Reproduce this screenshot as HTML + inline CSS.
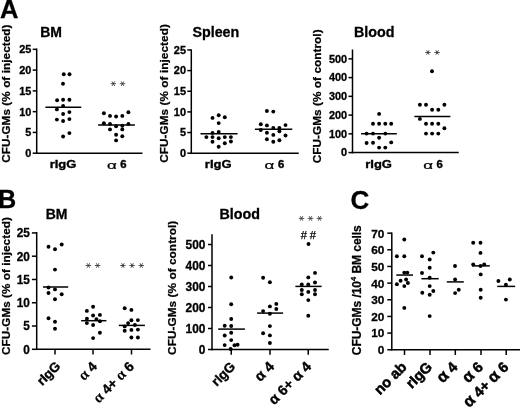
<!DOCTYPE html>
<html><head><meta charset="utf-8"><title>Figure</title>
<style>
html,body{margin:0;padding:0;background:#fff;}
body{width:520px;height:408px;overflow:hidden;font-family:'Liberation Sans',sans-serif;}
svg{display:block;will-change:transform;}
svg text{font-family:'Liberation Sans',sans-serif;fill:#000;}
</style></head><body>
<svg width="520" height="408" viewBox="0 0 520 408">
<rect width="520" height="408" fill="#fff"/>
<text x="-0.1" y="17.9" font-size="25.5" font-weight="bold" text-anchor="start" stroke="#000" stroke-width="0.3">A</text>
<text x="-1.9" y="207.7" font-size="25.2" font-weight="bold" text-anchor="start" stroke="#000" stroke-width="0.3">B</text>
<text x="350.4" y="209.1" font-size="26" font-weight="bold" text-anchor="start" stroke="#000" stroke-width="0.3">C</text>
<line x1="36.7" y1="48.5" x2="36.7" y2="153.95" stroke="#000" stroke-width="1.5"/>
<line x1="32.7" y1="153.2" x2="36.7" y2="153.2" stroke="#000" stroke-width="1.5"/>
<text x="31.4" y="157.07" font-size="10.4" font-weight="bold" text-anchor="end" stroke="#000" stroke-width="0.3" textLength="6.06" lengthAdjust="spacingAndGlyphs">0</text>
<line x1="32.7" y1="132.42" x2="36.7" y2="132.42" stroke="#000" stroke-width="1.5"/>
<text x="31.4" y="136.3" font-size="10.4" font-weight="bold" text-anchor="end" stroke="#000" stroke-width="0.3" textLength="6.06" lengthAdjust="spacingAndGlyphs">5</text>
<line x1="32.7" y1="111.65" x2="36.7" y2="111.65" stroke="#000" stroke-width="1.5"/>
<text x="31.4" y="115.52" font-size="10.4" font-weight="bold" text-anchor="end" stroke="#000" stroke-width="0.3" textLength="12.13" lengthAdjust="spacingAndGlyphs">10</text>
<line x1="32.7" y1="90.87" x2="36.7" y2="90.87" stroke="#000" stroke-width="1.5"/>
<text x="31.4" y="94.75" font-size="10.4" font-weight="bold" text-anchor="end" stroke="#000" stroke-width="0.3" textLength="12.13" lengthAdjust="spacingAndGlyphs">15</text>
<line x1="32.7" y1="70.1" x2="36.7" y2="70.1" stroke="#000" stroke-width="1.5"/>
<text x="31.4" y="73.97" font-size="10.4" font-weight="bold" text-anchor="end" stroke="#000" stroke-width="0.3" textLength="12.13" lengthAdjust="spacingAndGlyphs">20</text>
<line x1="32.7" y1="49.32" x2="36.7" y2="49.32" stroke="#000" stroke-width="1.5"/>
<text x="31.4" y="53.2" font-size="10.4" font-weight="bold" text-anchor="end" stroke="#000" stroke-width="0.3" textLength="12.13" lengthAdjust="spacingAndGlyphs">25</text>
<line x1="35.95" y1="153.2" x2="142.5" y2="153.2" stroke="#000" stroke-width="1.5"/>
<text x="40.2" y="37" font-size="14" font-weight="bold" text-anchor="start" stroke="#000" stroke-width="0.3">BM</text>
<text transform="translate(10.2,162.85) rotate(-90)" font-size="11.7" font-weight="bold" textLength="138.3" lengthAdjust="spacing" stroke="#000" stroke-width="0.25">CFU-GMs (% of injected)</text>
<g><circle cx="63.75" cy="74.25" r="1.95"/><circle cx="69.5" cy="74.25" r="1.95"/><circle cx="63" cy="83.75" r="1.95"/><circle cx="57.1" cy="100.25" r="1.95"/><circle cx="63.1" cy="99.75" r="1.95"/><circle cx="69.4" cy="99.75" r="1.95"/><circle cx="63.1" cy="106" r="1.95"/><circle cx="56.9" cy="109.4" r="1.95"/><circle cx="69.4" cy="112.1" r="1.95"/><circle cx="63.1" cy="114" r="1.95"/><circle cx="56.9" cy="119.6" r="1.95"/><circle cx="69.4" cy="119.1" r="1.95"/><circle cx="63.1" cy="121" r="1.95"/><circle cx="69.4" cy="133.1" r="1.95"/><circle cx="63.1" cy="136.5" r="1.95"/></g>
<line x1="45.4" y1="107.2" x2="81.25" y2="107.2" stroke="#000" stroke-width="1.5"/>
<g><circle cx="103.9" cy="113.2" r="1.95"/><circle cx="110" cy="115.9" r="1.95"/><circle cx="116.1" cy="116.5" r="1.95"/><circle cx="122.3" cy="115.9" r="1.95"/><circle cx="128.4" cy="112.3" r="1.95"/><circle cx="103.9" cy="123.3" r="1.95"/><circle cx="110" cy="123.9" r="1.95"/><circle cx="116.1" cy="126.3" r="1.95"/><circle cx="122.3" cy="125.7" r="1.95"/><circle cx="128.4" cy="123.9" r="1.95"/><circle cx="110" cy="129.4" r="1.95"/><circle cx="122.3" cy="129.4" r="1.95"/><circle cx="116.1" cy="134.7" r="1.95"/><circle cx="122.3" cy="136.2" r="1.95"/><circle cx="116.1" cy="140.4" r="1.95"/></g>
<line x1="98.1" y1="124.9" x2="134.9" y2="124.9" stroke="#000" stroke-width="1.5"/>
<g stroke="#2a2a2a" stroke-width="0.8" stroke-linecap="butt">
<line x1="110.60" y1="83.7" x2="116.10" y2="83.7"/>
<line x1="112.04" y1="81.44" x2="114.66" y2="85.96"/>
<line x1="114.66" y1="81.44" x2="112.04" y2="85.96"/>
</g>
<g stroke="#2a2a2a" stroke-width="0.8" stroke-linecap="butt">
<line x1="119.75" y1="83.7" x2="125.25" y2="83.7"/>
<line x1="121.19" y1="81.44" x2="123.81" y2="85.96"/>
<line x1="123.81" y1="81.44" x2="121.19" y2="85.96"/>
</g>
<text x="63.0" y="168.0" font-size="11.3" font-weight="bold" text-anchor="middle" textLength="26.7" lengthAdjust="spacingAndGlyphs" stroke="#000" stroke-width="0.35">rIgG</text>
<text transform="translate(106.92,168.8) scale(1.41,0.85)" font-family="Liberation Serif" font-weight="normal" font-size="12" stroke="#000" stroke-width="0.25">α</text>
<text x="120.2" y="168.3" font-size="11.3" font-weight="bold" stroke="#000" stroke-width="0.4">6</text>
<line x1="191.3" y1="49.4" x2="191.3" y2="153.95" stroke="#000" stroke-width="1.5"/>
<line x1="187.3" y1="153.2" x2="191.3" y2="153.2" stroke="#000" stroke-width="1.5"/>
<text x="186.0" y="157.07" font-size="10.4" font-weight="bold" text-anchor="end" stroke="#000" stroke-width="0.3" textLength="6.06" lengthAdjust="spacingAndGlyphs">0</text>
<line x1="187.3" y1="132.55" x2="191.3" y2="132.55" stroke="#000" stroke-width="1.5"/>
<text x="186.0" y="136.42" font-size="10.4" font-weight="bold" text-anchor="end" stroke="#000" stroke-width="0.3" textLength="6.06" lengthAdjust="spacingAndGlyphs">5</text>
<line x1="187.3" y1="111.9" x2="191.3" y2="111.9" stroke="#000" stroke-width="1.5"/>
<text x="186.0" y="115.77" font-size="10.4" font-weight="bold" text-anchor="end" stroke="#000" stroke-width="0.3" textLength="12.13" lengthAdjust="spacingAndGlyphs">10</text>
<line x1="187.3" y1="91.25" x2="191.3" y2="91.25" stroke="#000" stroke-width="1.5"/>
<text x="186.0" y="95.12" font-size="10.4" font-weight="bold" text-anchor="end" stroke="#000" stroke-width="0.3" textLength="12.13" lengthAdjust="spacingAndGlyphs">15</text>
<line x1="187.3" y1="70.6" x2="191.3" y2="70.6" stroke="#000" stroke-width="1.5"/>
<text x="186.0" y="74.47" font-size="10.4" font-weight="bold" text-anchor="end" stroke="#000" stroke-width="0.3" textLength="12.13" lengthAdjust="spacingAndGlyphs">20</text>
<line x1="187.3" y1="49.95" x2="191.3" y2="49.95" stroke="#000" stroke-width="1.5"/>
<text x="186.0" y="53.82" font-size="10.4" font-weight="bold" text-anchor="end" stroke="#000" stroke-width="0.3" textLength="12.13" lengthAdjust="spacingAndGlyphs">25</text>
<line x1="190.55" y1="153.2" x2="298.75" y2="153.2" stroke="#000" stroke-width="1.5"/>
<text x="192.4" y="36.9" font-size="14.3" font-weight="bold" text-anchor="start" stroke="#000" stroke-width="0.3">Spleen</text>
<text transform="translate(167.6,162.85) rotate(-90)" font-size="11.7" font-weight="bold" textLength="138.7" lengthAdjust="spacing" stroke="#000" stroke-width="0.25">CFU-GMs (% of injected)</text>
<g><circle cx="212.5" cy="117.9" r="1.95"/><circle cx="218.7" cy="115.2" r="1.95"/><circle cx="224.8" cy="117.3" r="1.95"/><circle cx="218.7" cy="123.1" r="1.95"/><circle cx="212.5" cy="132.9" r="1.95"/><circle cx="218.7" cy="132" r="1.95"/><circle cx="206.4" cy="137.1" r="1.95"/><circle cx="212.5" cy="137.1" r="1.95"/><circle cx="218.7" cy="138.3" r="1.95"/><circle cx="224.8" cy="137.1" r="1.95"/><circle cx="230.9" cy="137.1" r="1.95"/><circle cx="212.5" cy="141.8" r="1.95"/><circle cx="224.8" cy="143.2" r="1.95"/><circle cx="230.9" cy="141.5" r="1.95"/><circle cx="218.7" cy="146.7" r="1.95"/></g>
<line x1="200.5" y1="133.7" x2="237.6" y2="133.7" stroke="#000" stroke-width="1.5"/>
<g><circle cx="266.9" cy="111" r="1.95"/><circle cx="273.3" cy="111.6" r="1.95"/><circle cx="260.8" cy="124.3" r="1.95"/><circle cx="266.9" cy="125.4" r="1.95"/><circle cx="285.5" cy="125.1" r="1.95"/><circle cx="273.3" cy="127.9" r="1.95"/><circle cx="279.4" cy="127.9" r="1.95"/><circle cx="260.8" cy="130" r="1.95"/><circle cx="279.4" cy="131.3" r="1.95"/><circle cx="266.9" cy="132.8" r="1.95"/><circle cx="273.3" cy="134.9" r="1.95"/><circle cx="285.5" cy="135.5" r="1.95"/><circle cx="266.9" cy="139.2" r="1.95"/><circle cx="273.3" cy="141.7" r="1.95"/><circle cx="279.4" cy="140.2" r="1.95"/></g>
<line x1="254.9" y1="129.2" x2="292.3" y2="129.2" stroke="#000" stroke-width="1.5"/>
<text x="218.2" y="168.0" font-size="11.3" font-weight="bold" text-anchor="middle" textLength="26.7" lengthAdjust="spacingAndGlyphs" stroke="#000" stroke-width="0.35">rIgG</text>
<text transform="translate(264.62,168.8) scale(1.41,0.85)" font-family="Liberation Serif" font-weight="normal" font-size="12" stroke="#000" stroke-width="0.25">α</text>
<text x="277.9" y="168.3" font-size="11.3" font-weight="bold" stroke="#000" stroke-width="0.4">6</text>
<line x1="352.5" y1="49.5" x2="352.5" y2="153.35" stroke="#000" stroke-width="1.5"/>
<line x1="348.5" y1="152.6" x2="352.5" y2="152.6" stroke="#000" stroke-width="1.5"/>
<text x="347.2" y="156.47" font-size="10.4" font-weight="bold" text-anchor="end" stroke="#000" stroke-width="0.3" textLength="6.06" lengthAdjust="spacingAndGlyphs">0</text>
<line x1="348.5" y1="133.85" x2="352.5" y2="133.85" stroke="#000" stroke-width="1.5"/>
<text x="347.2" y="137.72" font-size="10.4" font-weight="bold" text-anchor="end" stroke="#000" stroke-width="0.3" textLength="18.19" lengthAdjust="spacingAndGlyphs">100</text>
<line x1="348.5" y1="115.1" x2="352.5" y2="115.1" stroke="#000" stroke-width="1.5"/>
<text x="347.2" y="118.97" font-size="10.4" font-weight="bold" text-anchor="end" stroke="#000" stroke-width="0.3" textLength="18.19" lengthAdjust="spacingAndGlyphs">200</text>
<line x1="348.5" y1="96.35" x2="352.5" y2="96.35" stroke="#000" stroke-width="1.5"/>
<text x="347.2" y="100.22" font-size="10.4" font-weight="bold" text-anchor="end" stroke="#000" stroke-width="0.3" textLength="18.19" lengthAdjust="spacingAndGlyphs">300</text>
<line x1="348.5" y1="77.6" x2="352.5" y2="77.6" stroke="#000" stroke-width="1.5"/>
<text x="347.2" y="81.47" font-size="10.4" font-weight="bold" text-anchor="end" stroke="#000" stroke-width="0.3" textLength="18.19" lengthAdjust="spacingAndGlyphs">400</text>
<line x1="348.5" y1="58.85" x2="352.5" y2="58.85" stroke="#000" stroke-width="1.5"/>
<text x="347.2" y="62.72" font-size="10.4" font-weight="bold" text-anchor="end" stroke="#000" stroke-width="0.3" textLength="18.19" lengthAdjust="spacingAndGlyphs">500</text>
<line x1="351.75" y1="152.6" x2="458.75" y2="152.6" stroke="#000" stroke-width="1.5"/>
<text x="354" y="37" font-size="14.3" font-weight="bold" text-anchor="start" stroke="#000" stroke-width="0.3">Blood</text>
<text transform="translate(320.5,163.3) rotate(-90)" font-size="11.8" font-weight="bold" textLength="133.9" lengthAdjust="spacing" stroke="#000" stroke-width="0.25">CFU-GMs (% of control)</text>
<g><circle cx="379.1" cy="113.9" r="1.95"/><circle cx="373" cy="123.75" r="1.95"/><circle cx="379.1" cy="123.75" r="1.95"/><circle cx="385.3" cy="123.75" r="1.95"/><circle cx="391.2" cy="123.75" r="1.95"/><circle cx="366.6" cy="133.6" r="1.95"/><circle cx="373" cy="133.6" r="1.95"/><circle cx="385.3" cy="133.6" r="1.95"/><circle cx="379.1" cy="137.8" r="1.95"/><circle cx="366.6" cy="143" r="1.95"/><circle cx="373" cy="142.7" r="1.95"/><circle cx="391.2" cy="142.4" r="1.95"/><circle cx="379.1" cy="147.6" r="1.95"/><circle cx="385.3" cy="147.6" r="1.95"/></g>
<line x1="361.1" y1="133.8" x2="396.8" y2="133.8" stroke="#000" stroke-width="1.5"/>
<g><circle cx="432" cy="71.25" r="1.95"/><circle cx="419.9" cy="104.8" r="1.95"/><circle cx="426" cy="104.8" r="1.95"/><circle cx="432.1" cy="109.7" r="1.95"/><circle cx="438.3" cy="109.7" r="1.95"/><circle cx="444.4" cy="104.8" r="1.95"/><circle cx="419.9" cy="118.9" r="1.95"/><circle cx="426" cy="123.8" r="1.95"/><circle cx="432.1" cy="123.8" r="1.95"/><circle cx="438.3" cy="123.8" r="1.95"/><circle cx="444.4" cy="128.3" r="1.95"/><circle cx="426" cy="133.6" r="1.95"/><circle cx="432.1" cy="133.6" r="1.95"/><circle cx="438.3" cy="133.6" r="1.95"/></g>
<line x1="414.4" y1="116.4" x2="450.4" y2="116.4" stroke="#000" stroke-width="1.5"/>
<g stroke="#2a2a2a" stroke-width="0.8" stroke-linecap="butt">
<line x1="425.15" y1="52.5" x2="430.65" y2="52.5"/>
<line x1="426.59" y1="50.24" x2="429.21" y2="54.76"/>
<line x1="429.21" y1="50.24" x2="426.59" y2="54.76"/>
</g>
<g stroke="#2a2a2a" stroke-width="0.8" stroke-linecap="butt">
<line x1="434.35" y1="52.5" x2="439.85" y2="52.5"/>
<line x1="435.79" y1="50.24" x2="438.41" y2="54.76"/>
<line x1="438.41" y1="50.24" x2="435.79" y2="54.76"/>
</g>
<text x="378.6" y="168.0" font-size="11.3" font-weight="bold" text-anchor="middle" textLength="26.7" lengthAdjust="spacingAndGlyphs" stroke="#000" stroke-width="0.35">rIgG</text>
<text transform="translate(423.22,168.8) scale(1.41,0.85)" font-family="Liberation Serif" font-weight="normal" font-size="12" stroke="#000" stroke-width="0.25">α</text>
<text x="436.5" y="168.3" font-size="11.3" font-weight="bold" stroke="#000" stroke-width="0.4">6</text>
<line x1="36.7" y1="232" x2="36.7" y2="350.05" stroke="#000" stroke-width="1.5"/>
<line x1="31.9" y1="349.3" x2="36.7" y2="349.3" stroke="#000" stroke-width="1.5"/>
<text x="29.9" y="353.71" font-size="11.9" font-weight="bold" text-anchor="end" stroke="#000" stroke-width="0.3" textLength="6.56" lengthAdjust="spacingAndGlyphs">0</text>
<line x1="31.9" y1="326.03" x2="36.7" y2="326.03" stroke="#000" stroke-width="1.5"/>
<text x="29.9" y="330.44" font-size="11.9" font-weight="bold" text-anchor="end" stroke="#000" stroke-width="0.3" textLength="6.56" lengthAdjust="spacingAndGlyphs">5</text>
<line x1="31.9" y1="302.75" x2="36.7" y2="302.75" stroke="#000" stroke-width="1.5"/>
<text x="29.9" y="307.16" font-size="11.9" font-weight="bold" text-anchor="end" stroke="#000" stroke-width="0.3" textLength="13.13" lengthAdjust="spacingAndGlyphs">10</text>
<line x1="31.9" y1="279.48" x2="36.7" y2="279.48" stroke="#000" stroke-width="1.5"/>
<text x="29.9" y="283.89" font-size="11.9" font-weight="bold" text-anchor="end" stroke="#000" stroke-width="0.3" textLength="13.13" lengthAdjust="spacingAndGlyphs">15</text>
<line x1="31.9" y1="256.2" x2="36.7" y2="256.2" stroke="#000" stroke-width="1.5"/>
<text x="29.9" y="260.61" font-size="11.9" font-weight="bold" text-anchor="end" stroke="#000" stroke-width="0.3" textLength="13.13" lengthAdjust="spacingAndGlyphs">20</text>
<line x1="31.9" y1="232.93" x2="36.7" y2="232.93" stroke="#000" stroke-width="1.5"/>
<text x="29.9" y="237.34" font-size="11.9" font-weight="bold" text-anchor="end" stroke="#000" stroke-width="0.3" textLength="13.13" lengthAdjust="spacingAndGlyphs">25</text>
<line x1="35.95" y1="349.3" x2="150.5" y2="349.3" stroke="#000" stroke-width="1.5"/>
<line x1="55" y1="349.3" x2="55" y2="354.5" stroke="#000" stroke-width="1.5"/>
<line x1="93" y1="349.3" x2="93" y2="354.5" stroke="#000" stroke-width="1.5"/>
<line x1="131.5" y1="349.3" x2="131.5" y2="354.5" stroke="#000" stroke-width="1.5"/>
<text x="45.7" y="218.8" font-size="14" font-weight="bold" text-anchor="start" stroke="#000" stroke-width="0.3">BM</text>
<text transform="translate(9.6,354.9) rotate(-90)" font-size="11.7" font-weight="bold" textLength="137.7" lengthAdjust="spacing" stroke="#000" stroke-width="0.25">CFU-GMs (% of injected)</text>
<g><circle cx="48.5" cy="246.8" r="1.95"/><circle cx="55" cy="249.3" r="1.95"/><circle cx="61.7" cy="244.5" r="1.95"/><circle cx="55" cy="269.6" r="1.95"/><circle cx="48.5" cy="287.5" r="1.95"/><circle cx="55" cy="289.4" r="1.95"/><circle cx="48.5" cy="293" r="1.95"/><circle cx="61.7" cy="294.3" r="1.95"/><circle cx="55" cy="299.2" r="1.95"/><circle cx="48.5" cy="318.2" r="1.95"/><circle cx="55" cy="321.8" r="1.95"/><circle cx="55" cy="328.8" r="1.95"/></g>
<line x1="43" y1="287.0" x2="68.2" y2="287.0" stroke="#000" stroke-width="1.5"/>
<g><circle cx="93.1" cy="306.8" r="1.95"/><circle cx="86.9" cy="310.9" r="1.95"/><circle cx="93.1" cy="315.5" r="1.95"/><circle cx="99.9" cy="314.9" r="1.95"/><circle cx="86.9" cy="318.8" r="1.95"/><circle cx="96.4" cy="319.1" r="1.95"/><circle cx="99.9" cy="321.3" r="1.95"/><circle cx="86.9" cy="323.1" r="1.95"/><circle cx="93.1" cy="325" r="1.95"/><circle cx="99.9" cy="332.7" r="1.95"/><circle cx="93.1" cy="338.1" r="1.95"/></g>
<line x1="81.1" y1="320.7" x2="106.4" y2="320.7" stroke="#000" stroke-width="1.5"/>
<g><circle cx="124.7" cy="308.2" r="1.95"/><circle cx="131.4" cy="309.9" r="1.95"/><circle cx="131.4" cy="320.3" r="1.95"/><circle cx="137.9" cy="320.1" r="1.95"/><circle cx="128.1" cy="323.1" r="1.95"/><circle cx="134.9" cy="325" r="1.95"/><circle cx="124.7" cy="326.4" r="1.95"/><circle cx="124.7" cy="330.8" r="1.95"/><circle cx="131.4" cy="329.9" r="1.95"/><circle cx="137.9" cy="329.6" r="1.95"/><circle cx="131.4" cy="337.5" r="1.95"/><circle cx="137.9" cy="337.5" r="1.95"/></g>
<line x1="118.8" y1="325.4" x2="144.9" y2="325.4" stroke="#000" stroke-width="1.5"/>
<g stroke="#2a2a2a" stroke-width="0.8" stroke-linecap="butt">
<line x1="85.65" y1="265.5" x2="91.15" y2="265.5"/>
<line x1="87.09" y1="263.24" x2="89.71" y2="267.76"/>
<line x1="89.71" y1="263.24" x2="87.09" y2="267.76"/>
</g>
<g stroke="#2a2a2a" stroke-width="0.8" stroke-linecap="butt">
<line x1="94.85" y1="265.5" x2="100.35" y2="265.5"/>
<line x1="96.29" y1="263.24" x2="98.91" y2="267.76"/>
<line x1="98.91" y1="263.24" x2="96.29" y2="267.76"/>
</g>
<g stroke="#2a2a2a" stroke-width="0.8" stroke-linecap="butt">
<line x1="120.15" y1="265.5" x2="125.65" y2="265.5"/>
<line x1="121.59" y1="263.24" x2="124.21" y2="267.76"/>
<line x1="124.21" y1="263.24" x2="121.59" y2="267.76"/>
</g>
<g stroke="#2a2a2a" stroke-width="0.8" stroke-linecap="butt">
<line x1="129.35" y1="265.5" x2="134.85" y2="265.5"/>
<line x1="130.79" y1="263.24" x2="133.41" y2="267.76"/>
<line x1="133.41" y1="263.24" x2="130.79" y2="267.76"/>
</g>
<g stroke="#2a2a2a" stroke-width="0.8" stroke-linecap="butt">
<line x1="138.55" y1="265.5" x2="144.05" y2="265.5"/>
<line x1="139.99" y1="263.24" x2="142.61" y2="267.76"/>
<line x1="142.61" y1="263.24" x2="139.99" y2="267.76"/>
</g>
<text transform="translate(61.3,367) rotate(-45)" font-size="13.2" font-weight="bold" text-anchor="end" stroke="#000" stroke-width="0.35">rIgG</text>
<text transform="translate(97.9,367.3) rotate(-45)" font-size="13.7" font-weight="bold" text-anchor="end" stroke="#000" stroke-width="0.35"><tspan font-weight="bold" font-family="Liberation Serif" font-size="15" stroke-width="0.1">α</tspan> 4</text>
<text transform="translate(135.0,367.3) rotate(-45)" font-size="13.7" font-weight="bold" text-anchor="end" stroke="#000" stroke-width="0.35"><tspan font-weight="bold" font-family="Liberation Serif" font-size="15" stroke-width="0.1">α</tspan> 4+ <tspan font-weight="bold" font-family="Liberation Serif" font-size="15" stroke-width="0.1">α</tspan> 6</text>
<line x1="212" y1="234.3" x2="212" y2="350.25" stroke="#000" stroke-width="1.5"/>
<line x1="208" y1="349.5" x2="212" y2="349.5" stroke="#000" stroke-width="1.5"/>
<text x="205.4" y="353.91" font-size="11.9" font-weight="bold" text-anchor="end" stroke="#000" stroke-width="0.3" textLength="6.62" lengthAdjust="spacingAndGlyphs">0</text>
<line x1="208" y1="328.5" x2="212" y2="328.5" stroke="#000" stroke-width="1.5"/>
<text x="205.4" y="332.91" font-size="11.9" font-weight="bold" text-anchor="end" stroke="#000" stroke-width="0.3" textLength="19.86" lengthAdjust="spacingAndGlyphs">100</text>
<line x1="208" y1="307.5" x2="212" y2="307.5" stroke="#000" stroke-width="1.5"/>
<text x="205.4" y="311.91" font-size="11.9" font-weight="bold" text-anchor="end" stroke="#000" stroke-width="0.3" textLength="19.86" lengthAdjust="spacingAndGlyphs">200</text>
<line x1="208" y1="286.5" x2="212" y2="286.5" stroke="#000" stroke-width="1.5"/>
<text x="205.4" y="290.91" font-size="11.9" font-weight="bold" text-anchor="end" stroke="#000" stroke-width="0.3" textLength="19.86" lengthAdjust="spacingAndGlyphs">300</text>
<line x1="208" y1="265.5" x2="212" y2="265.5" stroke="#000" stroke-width="1.5"/>
<text x="205.4" y="269.91" font-size="11.9" font-weight="bold" text-anchor="end" stroke="#000" stroke-width="0.3" textLength="19.86" lengthAdjust="spacingAndGlyphs">400</text>
<line x1="208" y1="244.5" x2="212" y2="244.5" stroke="#000" stroke-width="1.5"/>
<text x="205.4" y="248.91" font-size="11.9" font-weight="bold" text-anchor="end" stroke="#000" stroke-width="0.3" textLength="19.86" lengthAdjust="spacingAndGlyphs">500</text>
<line x1="211.25" y1="349.5" x2="328.75" y2="349.5" stroke="#000" stroke-width="1.5"/>
<line x1="231.25" y1="349.5" x2="231.25" y2="354.7" stroke="#000" stroke-width="1.5"/>
<line x1="270" y1="349.5" x2="270" y2="354.7" stroke="#000" stroke-width="1.5"/>
<line x1="308.25" y1="349.5" x2="308.25" y2="354.7" stroke="#000" stroke-width="1.5"/>
<text x="219.5" y="219.2" font-size="14.3" font-weight="bold" text-anchor="start" stroke="#000" stroke-width="0.3">Blood</text>
<text transform="translate(175.9,354.9) rotate(-90)" font-size="11.8" font-weight="bold" textLength="134.2" lengthAdjust="spacing" stroke="#000" stroke-width="0.25">CFU-GMs (% of control)</text>
<g><circle cx="231.25" cy="277.5" r="1.95"/><circle cx="231.2" cy="304.3" r="1.95"/><circle cx="231.2" cy="319" r="1.95"/><circle cx="224.7" cy="325.7" r="1.95"/><circle cx="231.2" cy="326" r="1.95"/><circle cx="231.2" cy="332.8" r="1.95"/><circle cx="224.7" cy="335.5" r="1.95"/><circle cx="231.2" cy="340.1" r="1.95"/><circle cx="224.7" cy="345.1" r="1.95"/><circle cx="234.5" cy="345.3" r="1.95"/><circle cx="237.6" cy="344.7" r="1.95"/><circle cx="230.6" cy="349" r="1.95"/></g>
<line x1="218.2" y1="329.1" x2="244.9" y2="329.1" stroke="#000" stroke-width="1.5"/>
<g><circle cx="263.1" cy="277.7" r="1.95"/><circle cx="269.9" cy="282.3" r="1.95"/><circle cx="276.3" cy="303.9" r="1.95"/><circle cx="276.3" cy="309" r="1.95"/><circle cx="269.9" cy="306.4" r="1.95"/><circle cx="263.1" cy="311.1" r="1.95"/><circle cx="269.9" cy="313.75" r="1.95"/><circle cx="269.9" cy="326.1" r="1.95"/><circle cx="263.1" cy="333.2" r="1.95"/><circle cx="269.9" cy="335.4" r="1.95"/><circle cx="269.9" cy="343" r="1.95"/></g>
<line x1="257.1" y1="313.1" x2="283.1" y2="313.1" stroke="#000" stroke-width="1.5"/>
<g><circle cx="308.5" cy="244" r="1.95"/><circle cx="315" cy="272.9" r="1.95"/><circle cx="308.3" cy="277.4" r="1.95"/><circle cx="315" cy="282.5" r="1.95"/><circle cx="301.8" cy="284.5" r="1.95"/><circle cx="308.3" cy="284.5" r="1.95"/><circle cx="301.8" cy="290" r="1.95"/><circle cx="315" cy="290" r="1.95"/><circle cx="308.3" cy="291.9" r="1.95"/><circle cx="301.8" cy="294.3" r="1.95"/><circle cx="315" cy="294.3" r="1.95"/><circle cx="308.3" cy="300.1" r="1.95"/><circle cx="308.3" cy="315.8" r="1.95"/></g>
<line x1="295.4" y1="286.4" x2="321.6" y2="286.4" stroke="#000" stroke-width="1.5"/>
<g stroke="#2a2a2a" stroke-width="0.8" stroke-linecap="butt">
<line x1="298.75" y1="218.4" x2="304.25" y2="218.4"/>
<line x1="300.19" y1="216.14" x2="302.81" y2="220.66"/>
<line x1="302.81" y1="216.14" x2="300.19" y2="220.66"/>
</g>
<g stroke="#2a2a2a" stroke-width="0.8" stroke-linecap="butt">
<line x1="307.75" y1="218.4" x2="313.25" y2="218.4"/>
<line x1="309.19" y1="216.14" x2="311.81" y2="220.66"/>
<line x1="311.81" y1="216.14" x2="309.19" y2="220.66"/>
</g>
<g stroke="#2a2a2a" stroke-width="0.8" stroke-linecap="butt">
<line x1="316.75" y1="218.4" x2="322.25" y2="218.4"/>
<line x1="318.19" y1="216.14" x2="320.81" y2="220.66"/>
<line x1="320.81" y1="216.14" x2="318.19" y2="220.66"/>
</g>
<text x="303.8" y="238.5" font-size="11.2" font-weight="normal" text-anchor="middle" stroke="#000" stroke-width="0.25">#</text>
<text x="312.85" y="238.5" font-size="11.2" font-weight="normal" text-anchor="middle" stroke="#000" stroke-width="0.25">#</text>
<text transform="translate(236.2,367.5) rotate(-45)" font-size="13.4" font-weight="bold" text-anchor="end" stroke="#000" stroke-width="0.35">rIgG</text>
<text transform="translate(275.0,367.5) rotate(-45)" font-size="14.2" font-weight="bold" text-anchor="end" stroke="#000" stroke-width="0.35"><tspan font-family="Liberation Sans" font-size="14.5">α</tspan> 4</text>
<text transform="translate(312.2,367.5) rotate(-45)" font-size="14.2" font-weight="bold" text-anchor="end" stroke="#000" stroke-width="0.35"><tspan font-family="Liberation Sans" font-size="14.5">α</tspan> 6+ <tspan font-family="Liberation Sans" font-size="14.5">α</tspan> 4</text>
<line x1="391.8" y1="232.5" x2="391.8" y2="350.5" stroke="#000" stroke-width="1.5"/>
<line x1="387.3" y1="349.75" x2="391.8" y2="349.75" stroke="#000" stroke-width="1.5"/>
<text x="384.3" y="354.12" font-size="11.8" font-weight="bold" text-anchor="end" stroke="#000" stroke-width="0.3" textLength="6.56" lengthAdjust="spacingAndGlyphs">0</text>
<line x1="387.3" y1="333.09" x2="391.8" y2="333.09" stroke="#000" stroke-width="1.5"/>
<text x="384.3" y="337.47" font-size="11.8" font-weight="bold" text-anchor="end" stroke="#000" stroke-width="0.3" textLength="13.13" lengthAdjust="spacingAndGlyphs">10</text>
<line x1="387.3" y1="316.44" x2="391.8" y2="316.44" stroke="#000" stroke-width="1.5"/>
<text x="384.3" y="320.81" font-size="11.8" font-weight="bold" text-anchor="end" stroke="#000" stroke-width="0.3" textLength="13.13" lengthAdjust="spacingAndGlyphs">20</text>
<line x1="387.3" y1="299.78" x2="391.8" y2="299.78" stroke="#000" stroke-width="1.5"/>
<text x="384.3" y="304.15" font-size="11.8" font-weight="bold" text-anchor="end" stroke="#000" stroke-width="0.3" textLength="13.13" lengthAdjust="spacingAndGlyphs">30</text>
<line x1="387.3" y1="283.12" x2="391.8" y2="283.12" stroke="#000" stroke-width="1.5"/>
<text x="384.3" y="287.5" font-size="11.8" font-weight="bold" text-anchor="end" stroke="#000" stroke-width="0.3" textLength="13.13" lengthAdjust="spacingAndGlyphs">40</text>
<line x1="387.3" y1="266.47" x2="391.8" y2="266.47" stroke="#000" stroke-width="1.5"/>
<text x="384.3" y="270.84" font-size="11.8" font-weight="bold" text-anchor="end" stroke="#000" stroke-width="0.3" textLength="13.13" lengthAdjust="spacingAndGlyphs">50</text>
<line x1="387.3" y1="249.81" x2="391.8" y2="249.81" stroke="#000" stroke-width="1.5"/>
<text x="384.3" y="254.18" font-size="11.8" font-weight="bold" text-anchor="end" stroke="#000" stroke-width="0.3" textLength="13.13" lengthAdjust="spacingAndGlyphs">60</text>
<line x1="387.3" y1="233.15" x2="391.8" y2="233.15" stroke="#000" stroke-width="1.5"/>
<text x="384.3" y="237.53" font-size="11.8" font-weight="bold" text-anchor="end" stroke="#000" stroke-width="0.3" textLength="13.13" lengthAdjust="spacingAndGlyphs">70</text>
<line x1="391.05" y1="349.75" x2="520" y2="349.75" stroke="#000" stroke-width="1.5"/>
<line x1="404.5" y1="349.75" x2="404.5" y2="354.95" stroke="#000" stroke-width="1.5"/>
<line x1="430" y1="349.75" x2="430" y2="354.95" stroke="#000" stroke-width="1.5"/>
<line x1="455.3" y1="349.75" x2="455.3" y2="354.95" stroke="#000" stroke-width="1.5"/>
<line x1="481" y1="349.75" x2="481" y2="354.95" stroke="#000" stroke-width="1.5"/>
<line x1="506.2" y1="349.75" x2="506.2" y2="354.95" stroke="#000" stroke-width="1.5"/>
<text transform="translate(360.8,355.2) rotate(-90)" font-size="12" font-weight="bold" textLength="130.0" lengthAdjust="spacing" stroke="#000" stroke-width="0.25">CFU-GMs /10<tspan font-size="7.5" dy="-4.5">4</tspan><tspan dy="4.5"> BM cells</tspan></text>
<g><circle cx="404.3" cy="239.5" r="1.95"/><circle cx="396.9" cy="256.3" r="1.95"/><circle cx="404.3" cy="256.3" r="1.95"/><circle cx="404.3" cy="272.6" r="1.95"/><circle cx="407.3" cy="272.6" r="1.95"/><circle cx="400.6" cy="280.7" r="1.95"/><circle cx="406.1" cy="279.5" r="1.95"/><circle cx="407.9" cy="283" r="1.95"/><circle cx="396.9" cy="284.3" r="1.95"/><circle cx="404.3" cy="286.1" r="1.95"/><circle cx="404.3" cy="307.9" r="1.95"/></g>
<line x1="396.3" y1="275.05" x2="413" y2="275.05" stroke="#000" stroke-width="1.5"/>
<g><circle cx="422" cy="256.3" r="1.95"/><circle cx="433.3" cy="252.6" r="1.95"/><circle cx="429.7" cy="259.5" r="1.95"/><circle cx="429.7" cy="267.7" r="1.95"/><circle cx="422" cy="273" r="1.95"/><circle cx="429.7" cy="277.7" r="1.95"/><circle cx="429.7" cy="286.1" r="1.95"/><circle cx="433.3" cy="291" r="1.95"/><circle cx="422.3" cy="292.8" r="1.95"/><circle cx="429.7" cy="294.7" r="1.95"/><circle cx="429.7" cy="316.1" r="1.95"/></g>
<line x1="421.4" y1="278.7" x2="438.7" y2="278.7" stroke="#000" stroke-width="1.5"/>
<g><circle cx="455" cy="266" r="1.95"/><circle cx="455.1" cy="279.4" r="1.95"/><circle cx="458.75" cy="289.7" r="1.95"/><circle cx="455.1" cy="293.1" r="1.95"/></g>
<line x1="446.8" y1="281.9" x2="463.8" y2="281.9" stroke="#000" stroke-width="1.5"/>
<g><circle cx="473.2" cy="242.7" r="1.95"/><circle cx="480.5" cy="242.7" r="1.95"/><circle cx="480.5" cy="252.9" r="1.95"/><circle cx="473.2" cy="264.4" r="1.95"/><circle cx="480.5" cy="266" r="1.95"/><circle cx="484.2" cy="264.4" r="1.95"/><circle cx="480.7" cy="274.4" r="1.95"/><circle cx="480.7" cy="289.7" r="1.95"/><circle cx="480.7" cy="297.8" r="1.95"/></g>
<line x1="472" y1="265.9" x2="489.8" y2="265.9" stroke="#000" stroke-width="1.5"/>
<g><circle cx="498.4" cy="281" r="1.95"/><circle cx="509.8" cy="279.5" r="1.95"/><circle cx="505.9" cy="284.7" r="1.95"/><circle cx="505.9" cy="299.6" r="1.95"/></g>
<line x1="497.2" y1="286.4" x2="515.1" y2="286.4" stroke="#000" stroke-width="1.5"/>
<text transform="translate(407.5,368) rotate(-45)" font-size="14.6" font-weight="bold" text-anchor="end" stroke="#000" stroke-width="0.5">no ab</text>
<text transform="translate(433,368) rotate(-45)" font-size="14.6" font-weight="bold" text-anchor="end" stroke="#000" stroke-width="0.5">rIgG</text>
<text transform="translate(458.5,368) rotate(-45)" font-size="14.6" font-weight="bold" text-anchor="end" stroke="#000" stroke-width="0.5"><tspan font-family="Liberation Sans" font-size="16.2">α</tspan> 4</text>
<text transform="translate(484,368) rotate(-45)" font-size="14.6" font-weight="bold" text-anchor="end" stroke="#000" stroke-width="0.5"><tspan font-family="Liberation Sans" font-size="16.2">α</tspan> 6</text>
<text transform="translate(509.5,368) rotate(-45)" font-size="14.6" font-weight="bold" text-anchor="end" stroke="#000" stroke-width="0.5"><tspan font-family="Liberation Sans" font-size="16.2">α</tspan> 4+ <tspan font-family="Liberation Sans" font-size="16.2">α</tspan> 6</text>
</svg>
</body></html>
